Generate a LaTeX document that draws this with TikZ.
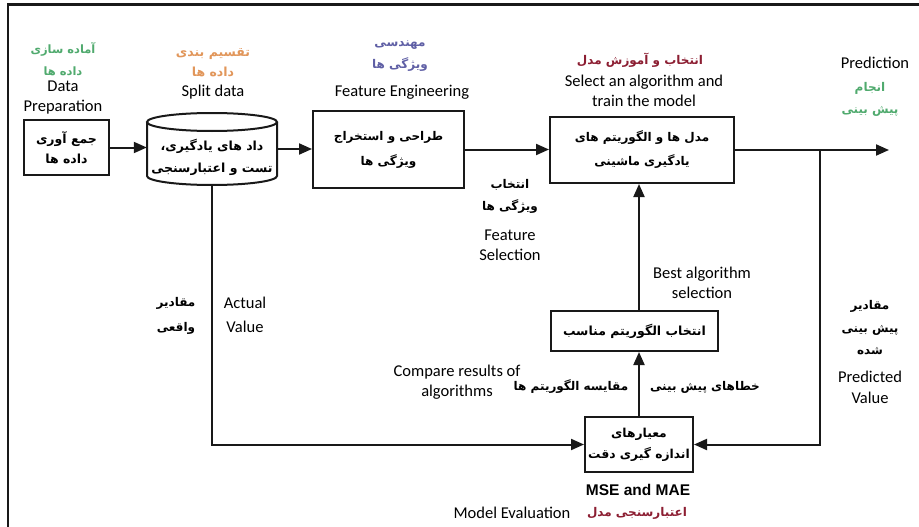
\documentclass[tikz,border=0pt]{standalone}
\usepackage{fontspec}
\setmainfont{Carlito}
\newfontfamily\fafont[Script=Arabic]{DejaVu Sans}
\newfontfamily\arialfont{Liberation Sans}
\TeXXeTstate=1
\usetikzlibrary{arrows.meta,calc}
\newcommand{\fa}[1]{{\fafont\bfseries\beginR #1\endR}}
\definecolor{lgreen}{RGB}{80,170,110}
\definecolor{lorange}{RGB}{225,150,90}
\definecolor{lblue}{RGB}{95,95,165}
\definecolor{ldred}{RGB}{140,30,50}
\definecolor{lineg}{RGB}{25,25,25}
\tikzset{
  box/.style={draw=lineg, line width=2pt, align=center, inner sep=0pt, fill=white},
  conn/.style={draw=lineg, line width=2pt},
  arr/.style={conn, -{Triangle[length=13pt,width=11pt]}},
  en/.style={align=center, inner sep=0pt, font=\fontsize{16.5}{20}\selectfont},
  fal/.style={align=center, inner sep=0pt, font=\fontsize{12}{22}\selectfont},
}
\begin{document}
\begin{tikzpicture}[x=1pt,y=-1pt]
\useasboundingbox (0,0) rectangle (919,527);
\draw[line width=2.2pt, lineg] (919,4.5) -- (8,4.5) -- (8,527);

% boxes
\node[box, minimum width=85pt, minimum height=55pt, font=\fontsize{12.5}{20}\selectfont] (m1) at (66.5,147.5) {\fa{جمع آوری}\\\fa{داده ها}};
\node[inner sep=0pt, minimum width=130pt, minimum height=72pt] (cyl) at (212,149) {};
\draw[conn, fill=white] (147,122) -- (147,176) arc[start angle=180, end angle=0, x radius=65, y radius=9] -- (277,122);
\draw[conn] (212,122) ellipse[x radius=65, y radius=9];
\node[align=center, inner sep=0pt, font=\fontsize{12.5}{22}\selectfont] (cyltext) at (212,157) {\fa{داد های یادگیری،}\\\fa{تست و اعتبارسنجی}};
\node[box, minimum width=151pt, minimum height=77pt, font=\fontsize{12}{25}\selectfont] (m3) at (388.5,149.5) {\fa{طراحی و استخراج}\\\fa{ویژگی ها}};
\node[box, minimum width=184pt, minimum height=66pt, font=\fontsize{12}{24}\selectfont] (m4) at (642,150) {\fa{مدل ها و الگوریتم های}\\\fa{یادگیری ماشینی}};
\node[box, minimum width=167pt, minimum height=40pt, font=\fontsize{12.5}{20}\selectfont] (m5) at (634.5,331) {\fa{انتخاب الگوریتم مناسب}};
\node[box, minimum width=108pt, minimum height=55pt, font=\fontsize{12.3}{21}\selectfont] (m6) at (639,444.5) {\fa{معیارهای}\\\fa{اندازه گیری دقت}};
\coordinate (out) at (889,150);
\coordinate (br) at (820,150);

% connectors
\draw[arr] (m1.east) -- (m1.east -| cyl.west);
\draw[arr] (cyl.east) -- (cyl.east -| m3.west);
\draw[arr] (m3.east) -- (m3.east -| m4.west);
\draw[arr] (m4.east) -- (out);
\draw[arr] (br) |- (m6.east);
\draw[arr] (cyl.south) |- (m6.west);
\draw[arr] (m6.north) -- (m6.north |- m5.south);
\draw[arr] (m6.north |- m5.north) -- (m6.north |- m4.south);

% labels
\node[fal, font=\fontsize{11.5}{22}\selectfont, text=lgreen] (fa1) at (63,59) {\fa{آماده سازی}\\\fa{داده ها}};
\node[en] (en1) at (63,97.5) {Data\\Preparation};
\node[fal, font=\fontsize{12.5}{20}\selectfont, text=lorange] (fa2) at (213,62.5) {\fa{تقسیم بندی}\\\fa{داده ها}};
\node[en] (en2) at (213,92) {Split data};
\node[fal, text=lblue] (fa3) at (400,56) {\fa{مهندسی}\\\fa{ویژگی ها}};
\node[en] (en3) at (402,92) {Feature Engineering};
\node[fal, text=ldred] (fa4) at (640,60) {\fa{انتخاب و آموزش مدل}};
\node[en] (en4) at (644,91) {Select an algorithm and\\train the model};
\node[en] (en5) at (875,63) {Prediction};
\node[fal, text=lgreen] (fa5) at (870,99) {\fa{انجام}\\\fa{پیش بینی}};
\node[fal] (fa6) at (510,196.5) {\fa{انتخاب}\\\fa{ویژگی ها}};
\node[en] (en6) at (510,245) {Feature\\Selection};
\node[en] (en7) at (702,283) {Best algorithm\\selection};
\node[fal, font=\fontsize{12}{25}\selectfont] (fa7) at (176,315.5) {\fa{مقادیر}\\\fa{واقعی}};
\node[en, font=\fontsize{16.5}{24}\selectfont] (en8) at (245,315) {Actual\\Value};
\node[en] (en9) at (457,382.5) {Compare results of\\algorithms};
\node[fal] (fa8) at (571,387) {\fa{مقایسه الگوریتم ها}};
\node[fal] (fa9) at (705,387) {\fa{خطاهای پیش بینی}};
\node[inner sep=0pt, font=\arialfont\bfseries\fontsize{15.5}{18}\selectfont] (en10) at (638,490) {MSE and MAE};
\node[en] (en11) at (512,513) {Model Evaluation};
\node[fal, text=ldred] (fa10) at (637,513) {\fa{اعتبارسنجی مدل}};
\node[fal, font=\fontsize{12}{22.5}\selectfont] (fa11) at (870,328) {\fa{مقادیر}\\\fa{پیش بینی}\\\fa{شده}};
\node[en, font=\fontsize{16.5}{21}\selectfont] (en12) at (870,387.5) {Predicted\\Value};
\end{tikzpicture}
\end{document}
